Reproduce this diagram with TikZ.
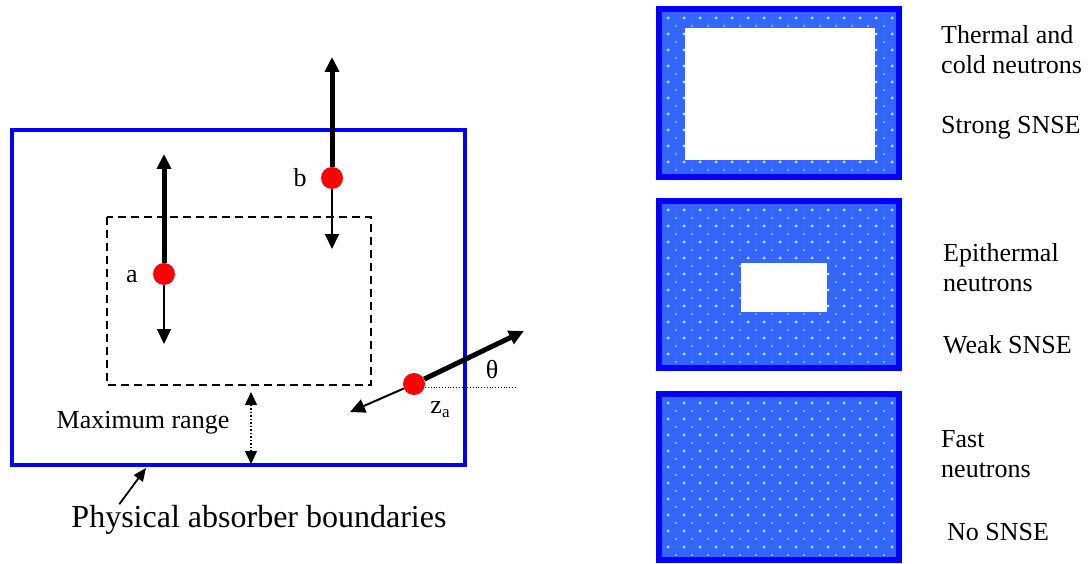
\documentclass[tikz,border=0pt]{standalone}
\usepackage{fontspec}
\setmainfont{Liberation Serif}
\usetikzlibrary{arrows.meta, positioning}
\definecolor{azul}{RGB}{0,0,255}
\definecolor{azulfondo}{RGB}{51,102,255}
\definecolor{rojo}{RGB}{255,0,0}
\tikzset{
  punto/.style={circle, fill=rojo, inner sep=0pt, minimum size=22pt},
  texto/.style={font=\fontsize{26}{30}\selectfont, inner sep=0pt, align=left},
  flechagruesa/.style={-{Triangle[length=15pt, width=14pt]}, line width=5pt},
  flechafina/.style={-{Triangle[length=15pt, width=14pt]}, line width=2pt},
  rango/.style={{Triangle[length=13pt, width=12pt]}-{Triangle[length=13pt, width=12pt]},
    line width=1.5pt, dotted},
  puntero/.style={-{Triangle[length=13pt, width=11pt]}, line width=1.8pt}
}

\begin{document}
\begin{tikzpicture}[x=1pt, y=-1pt]
  \useasboundingbox (0,0) rectangle (1089,564);

  % --- Absorbente ---
  \draw[azul, line width=4pt] (12,130) rectangle (465,465);
  \draw[dash pattern=on 8pt off 5pt, line width=1.5pt] (107,217) rectangle (371,385);

  \node[punto] (pa) at (164,274) {};
  \node[punto] (pb) at (332,178) {};
  \node[punto] (pz) at (414,384) {};
  \coordinate (pa-arr) at (164,154);
  \coordinate (pa-ab) at (164,344);
  \coordinate (pb-arr) at (332,57);
  \coordinate (pb-ab) at (332,249);
  \coordinate (pz-arr) at (524,331);
  \coordinate (pz-ab) at (350,412);
  \coordinate (pz-h) at (515,387);

  \draw[flechagruesa] (pa) -- (pa-arr);
  \draw[flechafina] (pa) -- (pa-ab);
  \draw[flechagruesa] (pb) -- (pb-arr);
  \draw[flechafina] (pb) -- (pb-ab);
  \draw[flechagruesa] (pz) -- (pz-arr);
  \draw[flechafina] (pz) -- (pz-ab);
  \draw[dotted, line width=0.8pt] ([yshift=-3pt]pz.east) -- (pz-h);

  \node[texto] (la) at (132,277) {a};
  \node[texto] (lb) at (300,178) {b};
  \node[texto] (lt) at (492,370) {θ};
  \node[texto] (lz) at (440,410) {z\raisebox{-0.35ex}{\fontsize{17}{17}\selectfont a}};

  % --- Alcance maximo ---
  \coordinate (r-arr) at (251,392);
  \coordinate (r-ab) at (251,464);
  \draw[rango] (r-arr) -- (r-ab);
  \node[texto] (lmax) at (143,423) {Maximum range};

  \coordinate (borde) at (146,468);
  \node[texto, font=\fontsize{32}{36}\selectfont] (lfis) at (259,520) {Physical absorber boundaries};
  \draw[puntero] ([xshift=48pt, yshift=1pt]lfis.north west) -- (borde);

  % --- Paneles ---
  \foreach \ya/\yb in {6/180, 198/371, 391/563} {
    \fill[azul] (656,\ya) rectangle (902,\yb);
    \begin{scope}
      \clip (662,{\ya+6}) rectangle (896,{\yb-6});
      \fill[azulfondo] (662,{\ya+6}) rectangle (896,{\yb-6});
      \foreach \i in {0,...,14} {
        \foreach \j in {0,...,10} {
          \fill[white, opacity=.85] ({668+16*\i},{\ya+12+16*\j}) circle (1.5);
          \fill[white, opacity=.75] ({676+16*\i},{\ya+20+16*\j}) circle (1.0);
        }
      }
    \end{scope}
  }
  \fill[white] (685,28) rectangle (875,160);
  \fill[white] (741,263) rectangle (827,312);

  \node[texto, anchor=west] (l1) at (941,50) {Thermal and\\cold neutrons};
  \node[texto, anchor=west] (l1b) at (941,128) {Strong SNSE};
  \node[texto, anchor=west] (l2) at (943,268) {Epithermal\\neutrons};
  \node[texto, anchor=west] (l2b) at (943,345) {Weak SNSE};
  \node[texto, anchor=west] (l3) at (941,454) {Fast\\neutrons};
  \node[texto, anchor=west] (l3b) at (947,532) {No SNSE};

\end{tikzpicture}
\end{document}
